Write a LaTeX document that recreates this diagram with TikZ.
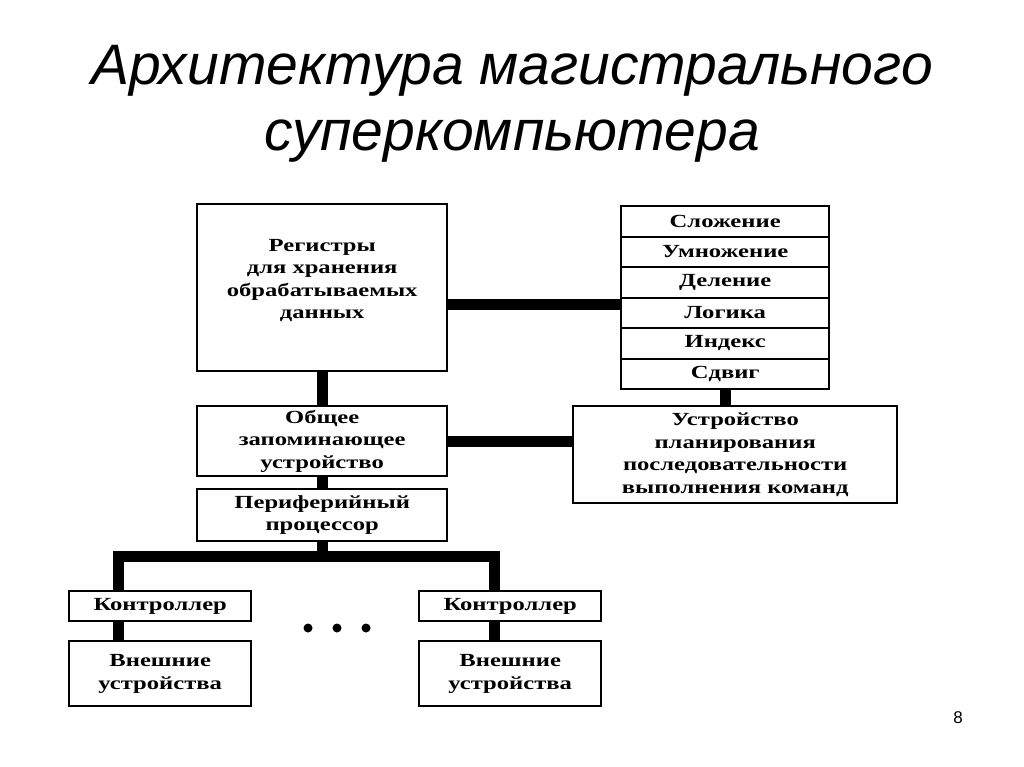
\documentclass[tikz,border=0pt]{standalone}
\usepackage{fontspec}
\setmainfont{Liberation Serif}
\newfontfamily\titlefont{Liberation Sans}
\newfontfamily\boxfont[FakeStretch=1.33]{Liberation Serif}
\begin{document}
\begin{tikzpicture}[x=1pt,y=-1pt,
  box/.style={draw,line width=2.4pt,rectangle,inner sep=0pt,align=center,
    font=\boxfont\fontsize{18.5}{22.5}\selectfont\bfseries,anchor=north west},
  bar/.style={line width=11pt,line cap=butt,line join=miter},
  dotc/.style={circle,fill,inner sep=0pt,minimum size=9pt}]
\useasboundingbox (0,0) rectangle (1024,767);
\fill[white] (0,0) rectangle (1024,767);
\node[font=\titlefont\itshape\fontsize{57}{66}\selectfont,align=center] (title) at (512,104)
  {Архитектура магистрального\\суперкомпьютера};
% left column
\node[box,minimum width=250pt,minimum height=167pt] (reg) at (196,203)
  {\raisebox{3pt}[0pt][0pt]{\begin{tabular}{@{}c@{}}Регистры\\для хранения\\обрабатываемых\\данных\end{tabular}}};
\node[box,minimum width=250pt,minimum height=70pt] (obsh) at (196,405)
  {Общее\\запоминающее\\устройство};
\node[box,minimum width=250pt,minimum height=52pt] (per) at (196,488)
  {Периферийный\\процессор};
% right stack
\node[box,minimum width=208pt,minimum height=30.5pt] (s1) at (620,205) {Сложение};
\node[box,minimum width=208pt,minimum height=30.5pt] (s2) at (620,235.5) {Умножение};
\node[box,minimum width=208pt,minimum height=30.5pt] (s3) at (620,266) {Деление};
\node[box,minimum width=208pt,minimum height=30.5pt] (s4) at (620,296.5) {Логика};
\node[box,minimum width=208pt,minimum height=30.5pt] (s5) at (620,327) {Индекс};
\node[box,minimum width=208pt,minimum height=30.5pt] (s6) at (620,357.5) {Сдвиг};
\node[box,minimum width=324pt,minimum height=97pt] (ust) at (572,405)
  {Устройство\\планирования\\последовательности\\выполнения команд};
% controllers and devices
\node[box,minimum width=182pt,minimum height=30pt] (k1) at (68,590) {Контроллер};
\node[box,minimum width=182pt,minimum height=30pt] (k2) at (418,590) {Контроллер};
\node[box,minimum width=182pt,minimum height=65pt] (v1) at (68,640) {Внешние\\устройства};
\node[box,minimum width=182pt,minimum height=65pt] (v2) at (418,640) {Внешние\\устройства};
% dots
\node[dotc] (d1) at (308,628) {};
\node[dotc] (d2) at (337,628) {};
\node[dotc] (d3) at (366,628) {};
% bus coordinates
\coordinate (busL) at (118,556);
\coordinate (busR) at (494,556);
% connectors
\draw[bar] (reg.south) -- (obsh.north);
\draw[bar] (obsh.south) -- (per.north);
\draw[bar] ([yshift=-22pt]s3.west) -- ([yshift=-22pt]s3.west -| reg.east);
\draw[bar] (s6.south) -- (s6.south |- ust.north);
\draw[bar] (obsh.east) -- (obsh.east -| ust.west);
\draw[bar] (per.south) -- (per.south |- busL);
\draw[bar] (busL |- k1.north) -- (busL) -- (busR) -- (busR |- k2.north);
\draw[bar] (k1.south -| busL) -- (v1.north -| busL);
\draw[bar] (k2.south -| busR) -- (v2.north -| busR);
\node[font=\titlefont\fontsize{17}{20}\selectfont] (pg) at (958,718) {8};
\end{tikzpicture}
\end{document}
